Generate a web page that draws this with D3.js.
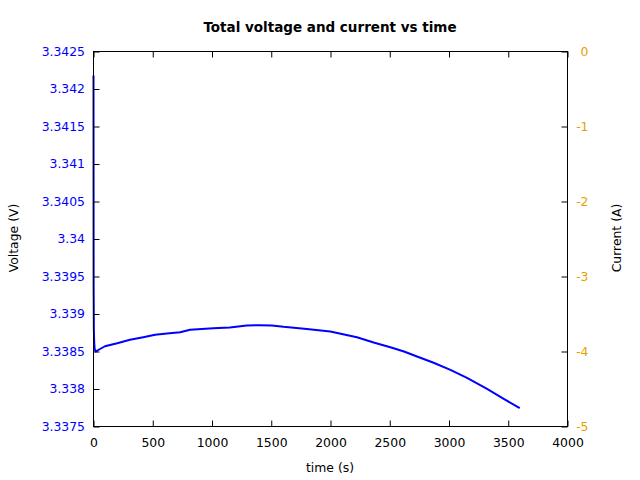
<!DOCTYPE html>
<html><head><meta charset="utf-8">
<script src="https://cdn.jsdelivr.net/npm/d3@7"></script>
<style>body{margin:0;background:#fff;} svg{display:block;font-family:"DejaVu Sans",sans-serif;}</style>
</head><body>
<svg id="c" width="640" height="480"></svg>
<script>
const times =    [0, 1, 3, 6, 10, 20, 40, 97, 200, 308, 420, 520, 620, 731, 815, 1012, 1150, 1294, 1400, 1505, 1603, 1800, 1998, 2223, 2364, 2505, 2620, 2730, 2870, 3012, 3152, 3321, 3462, 3597];
const voltage = [3.34218, 3.3394, 3.3388, 3.33862, 3.33853, 3.33850, 3.33852, 3.33857, 3.33861, 3.338656, 3.33869, 3.338722, 3.33874, 3.338757, 3.338789, 3.338811, 3.33882, 3.338847, 3.33885, 3.338847, 3.338829, 3.3388, 3.338767, 3.338691, 3.33862, 3.338557, 3.3385, 3.338433, 3.33835, 3.338256, 3.338149, 3.338003, 3.337869, 3.337744];
const xTicks = [0, 500, 1000, 1500, 2000, 2500, 3000, 3500, 4000];
const yTicks = [3.3375, 3.338, 3.3385, 3.339, 3.3395, 3.34, 3.3405, 3.341, 3.3415, 3.342, 3.3425];
const y2Ticks = [0, -1, -2, -3, -4, -5];

const svg = d3.select("#c");
const L = 93.5, R = 567.5, T = 51.5, B = 426.5;
const x = d3.scaleLinear().domain([0, 4000]).range([L, R]);
const y = d3.scaleLinear().domain([3.3375, 3.3425]).range([B, T]);
const y2 = d3.scaleLinear().domain([-5, 0]).range([B, T]);
const tk = 6;

// data line
svg.append("path").datum(times.map((t,i)=>[t, voltage[i]]))
  .attr("d", d3.line().x(d=>x(d[0])).y(d=>y(d[1])))
  .attr("fill","none").attr("stroke","#0000ff").attr("stroke-width",2).attr("stroke-linejoin","round");

// frame
svg.append("rect").attr("x",L).attr("y",T).attr("width",R-L).attr("height",B-T)
  .attr("fill","none").attr("stroke","#000").attr("stroke-width",1);

// bottom axis
const gx = svg.append("g").attr("transform",`translate(0,${B})`)
  .call(d3.axisBottom(x).tickValues(xTicks).tickSizeInner(-tk).tickSizeOuter(0).tickPadding(12).tickFormat(d3.format("d")));
gx.select(".domain").remove();
// top mirrored ticks
const gt = svg.append("g").attr("transform",`translate(0,${T})`)
  .call(d3.axisTop(x).tickValues(xTicks).tickSizeInner(-tk).tickSizeOuter(0).tickFormat(""));
gt.select(".domain").remove();

// left axis
const gy = svg.append("g").attr("transform",`translate(${L},0)`)
  .call(d3.axisLeft(y).tickValues(yTicks).tickSizeInner(-tk).tickSizeOuter(0).tickPadding(8.5).tickFormat(d=>String(+d.toFixed(4))));
gy.select(".domain").remove();
gy.selectAll("text").attr("fill","#0000ff");

// right axis (labels right-aligned like the reference)
const gr = svg.append("g").attr("transform",`translate(${R},0)`)
  .call(d3.axisRight(y2).tickValues(y2Ticks).tickSizeInner(-tk).tickSizeOuter(0).tickPadding(15).tickFormat(d=>String(d)));
gr.select(".domain").remove();
gr.selectAll("text").attr("fill","#e69f00").attr("x",21).attr("text-anchor","end");

svg.selectAll(".tick line").attr("stroke","#000");
svg.selectAll(".tick text").attr("font-size",12.4).attr("font-family","DejaVu Sans");

// titles
svg.append("text").attr("x",330).attr("y",32).attr("text-anchor","middle")
  .attr("font-size",13.5).attr("font-weight","bold").text("Total voltage and current vs time");
svg.append("text").attr("x",330).attr("y",472).attr("text-anchor","middle")
  .attr("font-size",12.4).text("time (s)");
svg.append("text").attr("transform","translate(18,238) rotate(-90)").attr("text-anchor","middle")
  .attr("font-size",12.4).text("Voltage (V)");
svg.append("text").attr("transform","translate(620.5,238) rotate(-90)").attr("text-anchor","middle")
  .attr("font-size",12.4).text("Current (A)");
</script>
</body></html>
